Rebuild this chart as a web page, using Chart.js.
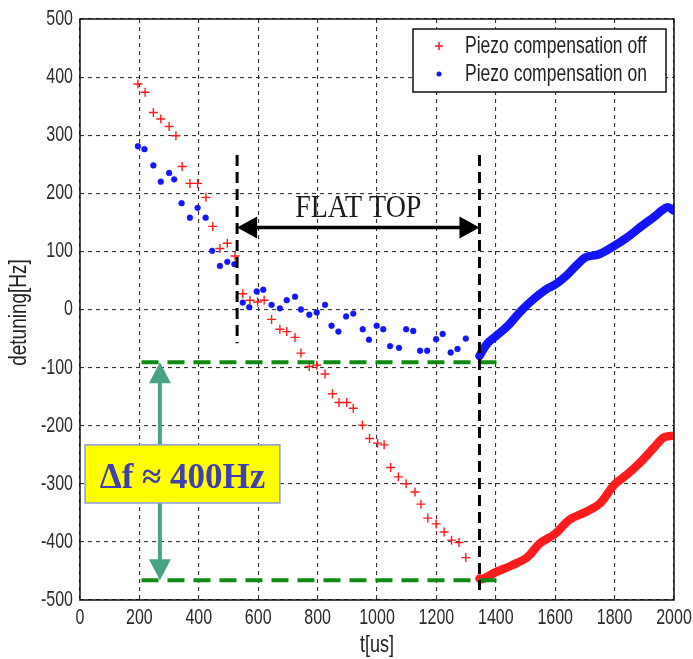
<!DOCTYPE html>
<html lang="en">
<head>
    <meta charset="UTF-8">
    <title>Detuning during the pulse</title>
    <script src="https://cdn.jsdelivr.net/npm/chart.js"></script>
    <style>
        body { margin: 0; background: #fff; }
        #chart { display: block; }
    </style>
</head>
<body>
    <canvas id="chart" width="693" height="659"></canvas>

    <script>
        // Axis ticks
        const xTicks = [0, 200, 400, 600, 800, 1000, 1200, 1400, 1600, 1800, 2000];
        const yTicks = [-500, -400, -300, -200, -100, 0, 100, 200, 300, 400, 500];

        const seriesNames = ['Piezo compensation off', 'Piezo compensation on'];

        // Piezo off: single readings up to the end of the flat top (t in us, detuning in Hz)
        const offT = [195, 219, 247, 272, 300, 323, 344, 370, 396, 424, 447, 471, 496, 522,
                      548, 572, 598, 620, 645, 673, 696, 724, 744, 772, 797, 825, 850, 872,
                      898, 920, 951, 975, 1002, 1024, 1046, 1072, 1098, 1128, 1148, 1171,
                      1199, 1226, 1251, 1276, 1299];
        const offHz = [388, 374, 339, 328, 315, 299, 246, 217, 217, 193, 143, 105, 114, 92,
                       27, 16, 13, 16, -17, -34, -38, -48, -75, -98, -96, -111, -145, -160,
                       -160, -170, -199, -222, -230, -233, -272, -288, -300, -314, -335, -359,
                       -369, -383, -397, -401, -427];
        // Piezo off: dense part after the flat top
        const offTailT = [1345, 1355, 1400, 1451, 1507, 1547, 1600, 1648, 1705, 1752, 1800,
                          1842, 1887, 1932, 1966, 2000];
        const offTailHz = [-463, -464, -452, -441, -426, -403, -386, -362, -348, -333, -301,
                           -284, -263, -238, -220, -217];

        // Piezo on: single readings
        const onT = [195, 217, 247, 272, 300, 317, 342, 370, 396, 423, 445, 471, 496, 520,
                     548, 570, 595, 617, 645, 673, 696, 724, 744, 772, 797, 825, 847, 870,
                     896, 920, 952, 973, 999, 1021, 1044, 1074, 1098, 1122, 1145, 1169,
                     1199, 1221, 1248, 1271, 1299];
        const onHz = [281, 276, 248, 220, 235, 224, 183, 158, 175, 158, 101, 75, 82, 78,
                      12, 4, 31, 34, 8, 2, 16, 22, 0, -9, -5, 8, -28, -38,
                      -12, -7, -34, -52, -28, -34, -63, -66, -34, -37, -71, -71,
                      -51, -42, -74, -68, -50];
        // Piezo on: dense part after the flat top
        const onTailT = [1345, 1372, 1400, 1439, 1484, 1525, 1570, 1600, 1637, 1670, 1703,
                         1748, 1800, 1842, 1887, 1932, 1977, 2000];
        const onTailHz = [-80, -58, -46, -29, -3, 17, 35, 43, 58, 75, 90,
                          95, 110, 124, 142, 159, 176, 170];

        // Annotations (in axis units)
        const flatTop = [529, 1345];
        const flatTopLabel = 'FLAT TOP';
        const deltaLevels = [-91, -466];
        const deltaLabel = 'Δf ≈ 400Hz';

        const RED = '#ff1c1c';
        const BLUE = '#1414ff';

        function toPoints(t, v) {
            return t.map((x, i) => ({ x: x, y: v[i] }));
        }

        // text with the tall look of the scanned figure
        function drawText(ctx, str, x, y, o) {
            ctx.save();
            ctx.translate(x, y);
            if (o.rotate) ctx.rotate(o.rotate);
            ctx.scale(o.sx || 1, o.sy || 1);
            ctx.font = o.font;
            ctx.fillStyle = o.color || '#222';
            ctx.textAlign = o.align || 'left';
            ctx.textBaseline = o.baseline || 'alphabetic';
            ctx.fillText(str, 0, 0);
            ctx.restore();
        }

        function arrowHead(ctx, tipX, tipY, dx, dy, len, half) {
            // dx,dy: unit direction the tip points to
            const bx = tipX - dx * len, by = tipY - dy * len;
            ctx.beginPath();
            ctx.moveTo(tipX, tipY);
            ctx.lineTo(bx - dy * half, by + dx * half);
            ctx.lineTo(bx + dy * half, by - dx * half);
            ctx.closePath();
            ctx.fill();
        }

        const overlay = {
            id: 'overlay',
            afterDraw(chart) {
                const ctx = chart.ctx;
                const a = chart.chartArea;
                const sx = chart.scales.x, sy = chart.scales.y;
                const px = v => sx.getPixelForValue(v);
                const py = v => sy.getPixelForValue(v);

                // axes box
                ctx.save();
                ctx.strokeStyle = '#111';
                ctx.lineWidth = 1.5;
                ctx.strokeRect(a.left, a.top, a.right - a.left, a.bottom - a.top);
                ctx.restore();

                // tick labels
                sx.ticks.forEach(t => drawText(ctx, String(t.value), px(t.value), a.bottom + 18,
                    { font: '16px "Liberation Sans", Arial', sy: 1.35, align: 'center', baseline: 'middle', color: '#2a2a2a' }));
                sy.ticks.forEach(t => drawText(ctx, String(t.value), a.left - 7, py(t.value),
                    { font: '16px "Liberation Sans", Arial', sy: 1.35, align: 'right', baseline: 'middle', color: '#2a2a2a' }));

                // axis titles
                drawText(ctx, 't[us]', (a.left + a.right) / 2, a.bottom + 46,
                    { font: '18px "Liberation Sans", Arial', sy: 1.3, align: 'center', baseline: 'middle', color: '#222' });
                drawText(ctx, 'detuning[Hz]', 19, (a.top + a.bottom) / 2 + 3,
                    { font: '19px "Liberation Sans", Arial', sy: 1.3, rotate: -Math.PI / 2, align: 'center', baseline: 'middle', color: '#222' });

                // green dashed levels
                ctx.save();
                ctx.strokeStyle = '#118a11';
                ctx.lineWidth = 4;
                ctx.setLineDash([17, 9]);
                deltaLevels.forEach(l => {
                    ctx.beginPath();
                    ctx.moveTo(px(207), py(l));
                    ctx.lineTo(px(1411), py(l));
                    ctx.stroke();
                });
                ctx.restore();

                // flat top markers
                const x1 = px(flatTop[0]), x2 = px(flatTop[1]);
                ctx.save();
                ctx.strokeStyle = '#000';
                ctx.lineWidth = 3;
                ctx.setLineDash([11, 6]);
                ctx.beginPath();
                ctx.moveTo(x1, py(266)); ctx.lineTo(x1, py(-58));
                ctx.moveTo(x2, py(266)); ctx.lineTo(x2, py(-483));
                ctx.stroke();
                ctx.setLineDash([]);
                const ay = py(141);
                ctx.lineWidth = 3.5;
                ctx.beginPath();
                ctx.moveTo(x1 + 15, ay); ctx.lineTo(x2 - 15, ay);
                ctx.stroke();
                ctx.fillStyle = '#000';
                arrowHead(ctx, x1, ay, -1, 0, 20, 11);
                arrowHead(ctx, x2, ay, 1, 0, 20, 11);
                ctx.restore();
                drawText(ctx, flatTopLabel, (x1 + x2) / 2, py(159),
                    { font: '28px "Liberation Serif", "Times New Roman", serif', sy: 1.1, align: 'center', color: '#1a1a1a' });

                // delta f arrow
                const tx = px(269), ty1 = py(deltaLevels[0]), ty2 = py(deltaLevels[1]);
                ctx.save();
                ctx.strokeStyle = '#47a383';
                ctx.fillStyle = '#47a383';
                ctx.lineWidth = 4;
                ctx.beginPath();
                ctx.moveTo(tx, ty1 + 18); ctx.lineTo(tx, ty2 - 18);
                ctx.stroke();
                arrowHead(ctx, tx, ty1, 0, -1, 21, 11);
                arrowHead(ctx, tx, ty2, 0, 1, 21, 11);
                ctx.restore();

                // delta f label box
                const bx1 = px(17), bx2 = px(673), by1 = py(-233), by2 = py(-333);
                ctx.save();
                ctx.fillStyle = '#ffff00';
                ctx.fillRect(bx1, by1, bx2 - bx1, by2 - by1);
                ctx.strokeStyle = '#8c9bdc';
                ctx.lineWidth = 1.5;
                ctx.strokeRect(bx1, by1, bx2 - bx1, by2 - by1);
                ctx.restore();
                drawText(ctx, deltaLabel, (bx1 + bx2) / 2, by1 + 43,
                    { font: 'bold 35px "Liberation Serif", "Times New Roman", serif', align: 'center', color: '#3f3fb2' });

                // legend
                const lw = 253, lh = 63;
                const lx = a.right - 8 - lw, ly = a.top + 10;
                ctx.save();
                ctx.fillStyle = '#fff';
                ctx.fillRect(lx, ly, lw, lh);
                ctx.strokeStyle = '#111';
                ctx.lineWidth = 1.5;
                ctx.strokeRect(lx, ly, lw, lh);
                const rows = [ly + 17, ly + 45];
                ctx.strokeStyle = RED;
                ctx.lineWidth = 1.5;
                ctx.beginPath();
                ctx.moveTo(lx + 22, rows[0]); ctx.lineTo(lx + 30, rows[0]);
                ctx.moveTo(lx + 26, rows[0] - 4); ctx.lineTo(lx + 26, rows[0] + 4);
                ctx.stroke();
                ctx.fillStyle = BLUE;
                ctx.beginPath();
                ctx.arc(lx + 26, rows[1], 2.5, 0, Math.PI * 2);
                ctx.fill();
                ctx.restore();
                seriesNames.forEach((n, i) => drawText(ctx, n, lx + 52, rows[i],
                    { font: '17.5px "Liberation Sans", Arial', sy: 1.4, baseline: 'middle', color: '#222' }));
            }
        };

        const gridStyle = { color: '#333', lineWidth: 1.1, drawTicks: false };

        new Chart(document.getElementById('chart'), {
            type: 'scatter',
            data: {
                datasets: [
                    {
                        label: seriesNames[0],
                        data: toPoints(offT, offHz),
                        pointStyle: 'cross',
                        pointRadius: 4.5,
                        borderColor: RED,
                        borderWidth: 1.4
                    },
                    {
                        label: seriesNames[1],
                        data: toPoints(onT, onHz),
                        pointStyle: 'circle',
                        pointRadius: 2.9,
                        backgroundColor: BLUE,
                        borderColor: BLUE,
                        borderWidth: 0.5
                    },
                    {
                        label: seriesNames[0] + ' (tail)',
                        data: toPoints(offTailT, offTailHz),
                        showLine: true,
                        tension: 0.35,
                        pointRadius: 0,
                        borderColor: RED,
                        borderWidth: 8.5,
                        borderCapStyle: 'round',
                        borderJoinStyle: 'round'
                    },
                    {
                        label: seriesNames[1] + ' (tail)',
                        data: toPoints(onTailT, onTailHz),
                        showLine: true,
                        tension: 0.35,
                        pointRadius: 0,
                        borderColor: BLUE,
                        borderWidth: 8.5,
                        borderCapStyle: 'round',
                        borderJoinStyle: 'round'
                    }
                ]
            },
            options: {
                responsive: false,
                animation: false,
                layout: { padding: { left: 0, top: 19, right: 19, bottom: 0 } },
                plugins: {
                    legend: { display: false },
                    tooltip: { enabled: false }
                },
                scales: {
                    x: {
                        type: 'linear',
                        min: 0,
                        max: 2000,
                        afterBuildTicks: s => { s.ticks = xTicks.map(v => ({ value: v })); },
                        afterFit: s => { s.height = 59; },
                        ticks: { display: false },
                        grid: gridStyle,
                        border: { display: false, dash: [4, 4] }
                    },
                    y: {
                        type: 'linear',
                        min: -500,
                        max: 500,
                        afterBuildTicks: s => { s.ticks = yTicks.map(v => ({ value: v })); },
                        afterFit: s => { s.width = 80; },
                        ticks: { display: false },
                        grid: gridStyle,
                        border: { display: false, dash: [4, 4] }
                    }
                }
            },
            plugins: [overlay]
        });
    </script>
</body>
</html>
